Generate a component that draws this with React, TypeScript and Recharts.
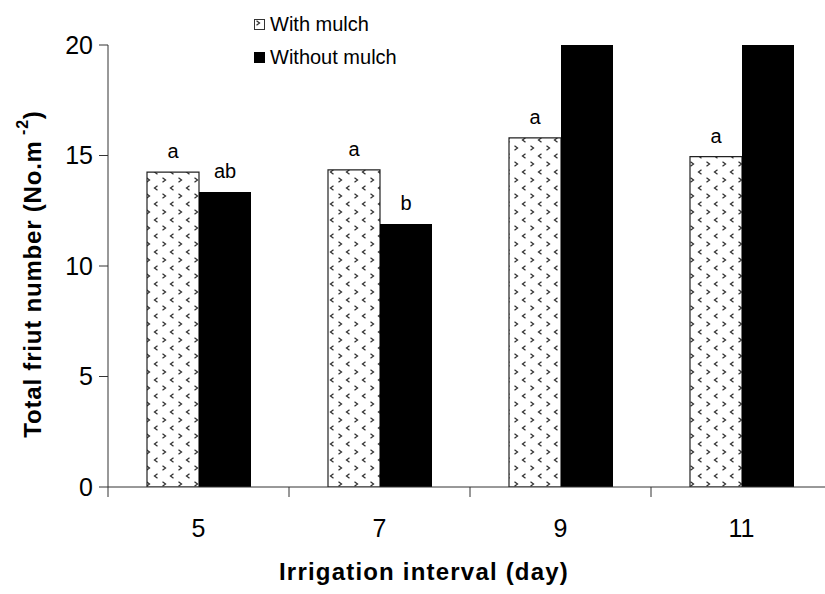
import React from 'react';
import { BarChart, Bar, XAxis, YAxis, LabelList } from 'recharts';

// irrigation interval (day)
const categories = ['5', '7', '9', '11'];
// total fruit number (No. m-2); the last two "without mulch" bars run off the top of the axis
const withMulch = [14.25, 14.35, 15.8, 14.95];
const withoutMulch = [13.35, 11.9, 23.5, 23.0];
// significance letters shown above the bars
const withMulchLetters = ['a', 'a', 'a', 'a'];
const withoutMulchLetters = ['ab', 'b', '', ''];
const yTicks = [0, 5, 10, 15, 20];

const data = categories.map((c, i) => ({
  interval: c,
  withMulch: withMulch[i],
  withoutMulch: withoutMulch[i],
  withMulchLetter: withMulchLetters[i],
  withoutMulchLetter: withoutMulchLetters[i],
}));

const FONT = '"Liberation Sans", Arial, Helvetica, sans-serif';

const Letter = (props: any) => {
  const { x, y, width, value } = props;
  if (!value) return null;
  return (
    <text x={x + width / 2} y={y - 14} textAnchor="middle" fontSize={20} fontFamily={FONT} fill="#000">
      {value}
    </text>
  );
};

// category label in the middle, tick mark on the left edge of each category
const XTick = (props: any) => {
  const { x, y, payload, width } = props;
  const half = payload.offset || width / categories.length / 2;
  return (
    <g>
      <line x1={x - half} y1={y} x2={x - half} y2={y + 10} stroke="#333" />
      <text x={x} y={y + 32} dy="0.71em" textAnchor="middle" fontSize={25} fontFamily={FONT} fill="#000">
        {payload.value}
      </text>
    </g>
  );
};

const YTitle = (props: any) => {
  const { viewBox } = props;
  const cy = viewBox.y + viewBox.height / 2 + 8;
  return (
    <text
      x={32}
      y={cy}
      transform={`rotate(-90 32 ${cy})`}
      textAnchor="middle"
      dominantBaseline="central"
      fontSize={24}
      fontWeight="bold"
      fontFamily={FONT}
      letterSpacing={0.8}
      fill="#000"
    >
      Total friut number (No.m
      <tspan fontSize={16} dy={-10}> -2</tspan>
      <tspan dy={10}>)</tspan>
    </text>
  );
};

const XTitle = (props: any) => {
  const { viewBox } = props;
  return (
    <text
      x={424}
      y={viewBox.y + viewBox.height - 14}
      textAnchor="middle"
      fontSize={24}
      fontWeight="bold"
      fontFamily={FONT}
      letterSpacing={1.2}
      fill="#000"
    >
      Irrigation interval (day)
    </text>
  );
};

const LegendBox = () => (
  <div
    style={{
      position: 'absolute',
      left: 254,
      top: 8,
      fontFamily: FONT,
      fontSize: 20,
      color: '#000',
      lineHeight: '33px',
    }}
  >
    <div style={{ display: 'flex', alignItems: 'center' }}>
      <svg width={11} height={11} style={{ marginRight: 5 }}>
        <rect x={0.5} y={0.5} width={10} height={10} fill="url(#dots)" stroke="#333" />
      </svg>
      With mulch
    </div>
    <div style={{ display: 'flex', alignItems: 'center' }}>
      <svg width={11} height={11} style={{ marginRight: 5 }}>
        <rect x={0} y={0} width={11} height={11} fill="#000" />
      </svg>
      Without mulch
    </div>
  </div>
);

export default function App() {
  return (
    <div
      style={{
        position: 'absolute',
        left: 0,
        top: 0,
        width: 825,
        height: 594,
        overflow: 'hidden',
        background: '#fff',
      }}
    >
      <svg width={0} height={0} style={{ position: 'absolute' }}>
        <defs>
          <pattern id="dots" width={16} height={16} patternUnits="userSpaceOnUse">
            <rect width={16} height={16} fill="#fff" />
            <path d="M2.5 1.8 L5.5 4 L2.5 6.2" fill="none" stroke="#333" strokeWidth={1.3} />
            <path d="M13.5 9.8 L10.5 12 L13.5 14.2" fill="none" stroke="#333" strokeWidth={1.3} />
          </pattern>
        </defs>
      </svg>
      <BarChart
        width={845}
        height={594}
        data={data}
        margin={{ top: 45, right: 13, bottom: 0, left: 0 }}
        barGap={0}
        barSize={52}
      >
        <XAxis
          dataKey="interval"
          axisLine={{ stroke: '#333' }}
          tickLine={false}
          tickSize={0}
          tickMargin={0}
          tick={<XTick />}
          height={107}
          label={<XTitle />}
        />
        <YAxis
          domain={[0, 20]}
          ticks={yTicks}
          allowDataOverflow
          width={108}
          axisLine={{ stroke: '#333' }}
          tickLine={{ stroke: '#333' }}
          tickSize={9}
          tickMargin={6}
          tick={{ fontSize: 25, fill: '#000', fontFamily: FONT }}
          label={<YTitle />}
        />
        <Bar
          dataKey="withMulch"
          name="With mulch"
          fill="url(#dots)"
          stroke="#222"
          strokeWidth={1.2}
          isAnimationActive={false}
        >
          <LabelList dataKey="withMulchLetter" content={<Letter />} />
        </Bar>
        <Bar dataKey="withoutMulch" name="Without mulch" fill="#000" isAnimationActive={false}>
          <LabelList dataKey="withoutMulchLetter" content={<Letter />} />
        </Bar>
      </BarChart>
      <LegendBox />
    </div>
  );
}
